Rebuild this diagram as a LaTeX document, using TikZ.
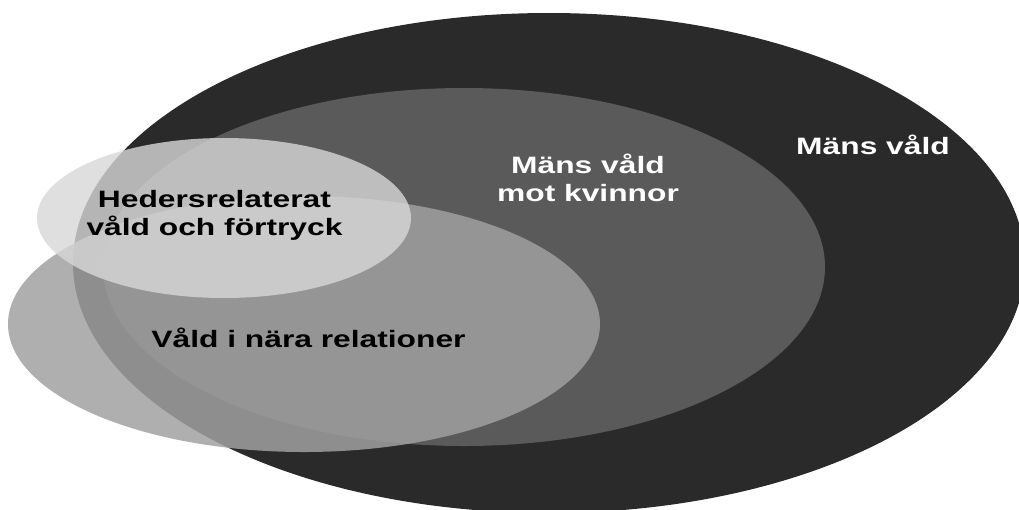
\documentclass[tikz,border=0pt]{standalone}
\usepackage{fontspec}
\usepackage{graphicx}
\setmainfont{Liberation Sans}
\definecolor{darkc}{RGB}{42,42,42}
\definecolor{midc}{RGB}{90,90,90}
\definecolor{lightc}{RGB}{161,161,161}
\definecolor{hedc}{RGB}{216,216,216}
\newcommand{\sx}[1]{\scalebox{1.34}[1]{#1}}
\tikzset{
  lbl/.style={inner sep=0pt, font=\bfseries\fontsize{23.7}{28}\selectfont, align=center},
  whitelbl/.style={lbl, text=white},
  blacklbl/.style={lbl, text=black}
}
\begin{document}
\begin{tikzpicture}[x=1pt,y=-1pt]
\useasboundingbox (0,0) rectangle (1019,509);
\clip (0,0) rectangle (1019,509);
\fill[white] (0,0) rectangle (1019,509);
% Mäns våld
\fill[darkc] (549,263) ellipse [x radius=476pt, y radius=250pt];
% Mäns våld mot kvinnor
\fill[midc] (464,267) ellipse [x radius=361pt, y radius=179pt];
% Våld i nära relationer
\fill[lightc, fill opacity=0.845] (304,324) ellipse [x radius=296pt, y radius=128pt];
% Hedersrelaterat
\fill[hedc, fill opacity=0.8] (224,218) ellipse [x radius=187pt, y radius=80pt];
% labels
\node[whitelbl, anchor=base] (mv) at (873,154) {\sx{Mäns våld}};
\node[whitelbl] (mvk) at (588,178) {\sx{Mäns våld}\\\sx{mot kvinnor}};
\node[blacklbl] (hed) at (214.5,215) {\sx{Hedersrelaterat}\\\sx{våld och förtryck}};
\node[blacklbl, anchor=base] (vnr) at (308.5,347) {\sx{Våld i nära relationer}};
\end{tikzpicture}
\end{document}
